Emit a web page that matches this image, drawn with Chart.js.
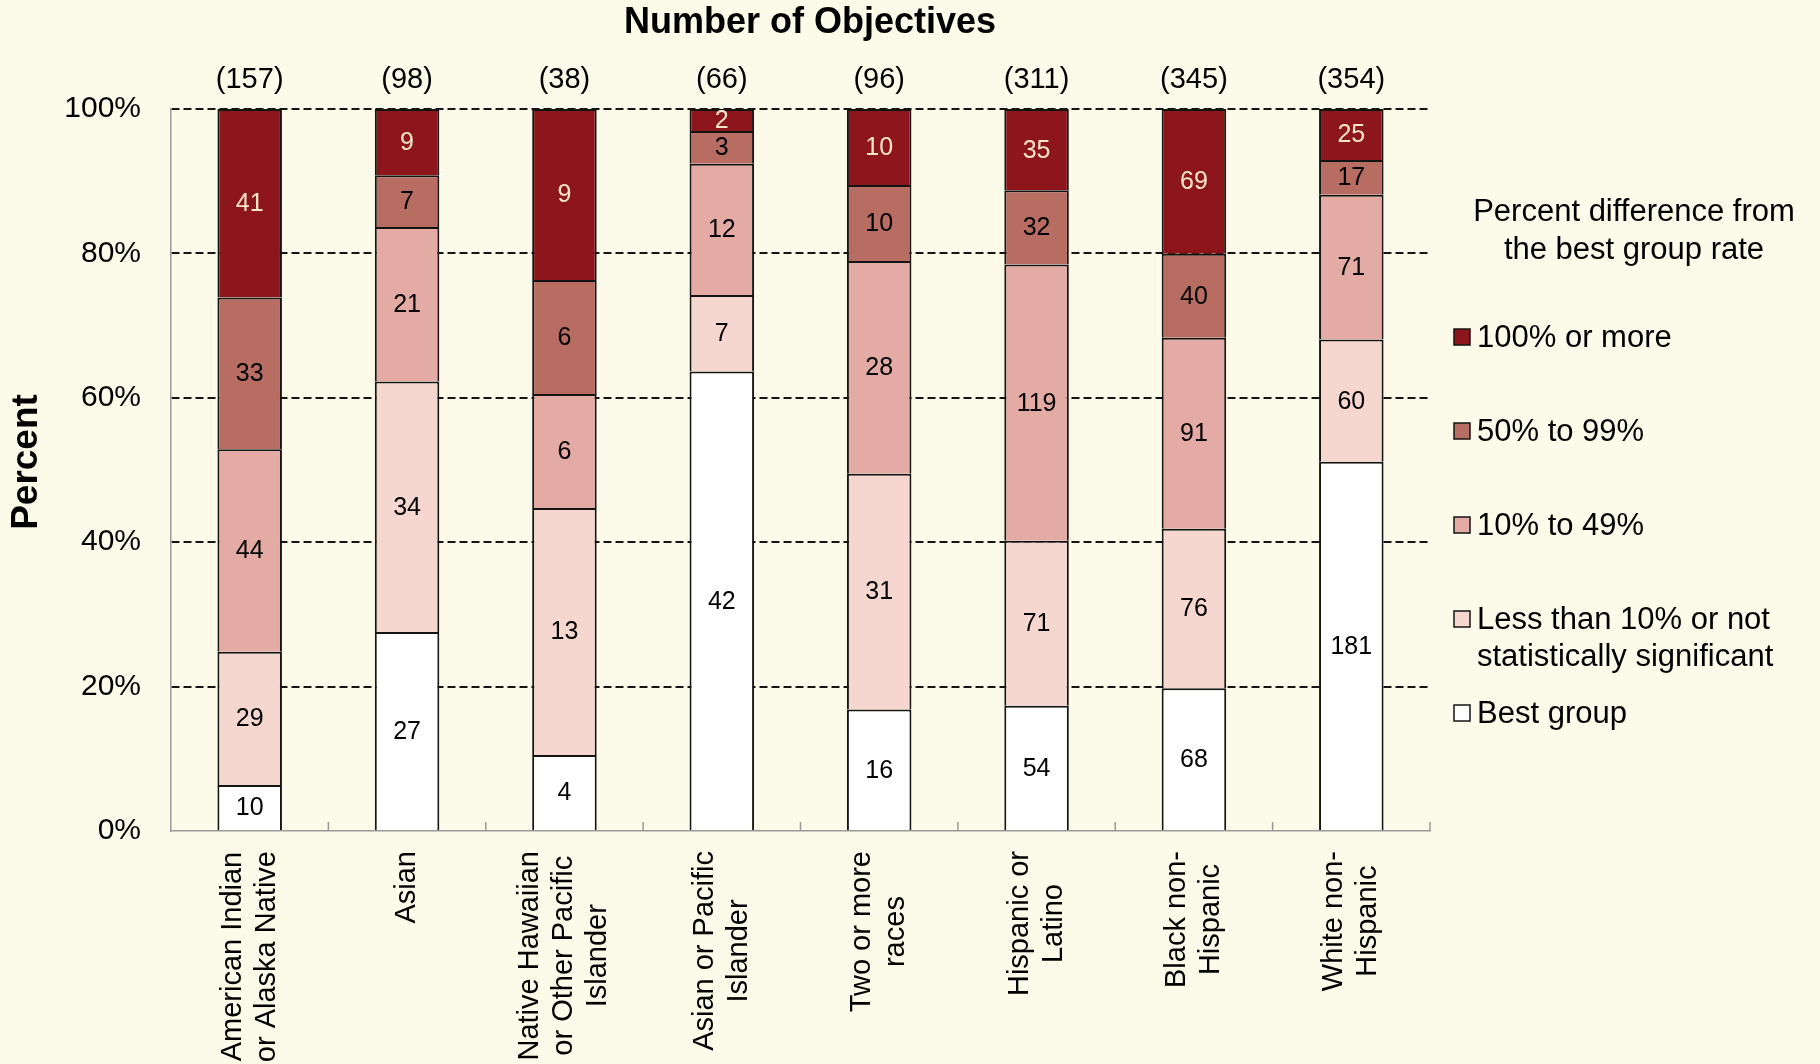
<!DOCTYPE html>
<html>
<head>
<meta charset="utf-8">
<title>Number of Objectives</title>
<script src="https://cdn.jsdelivr.net/npm/chart.js@4.4.1/dist/chart.umd.min.js"></script>
<style>
  html, body { margin: 0; padding: 0; background: #fcfbe9; }
  #wrap { width: 1820px; height: 1064px; position: relative; }
</style>
</head>
<body>
<div id="wrap"><canvas id="objChart"></canvas></div>
<script>
// groups and number of objectives per group
var categories = [
  ["American Indian", "or Alaska Native"],
  ["Asian"],
  ["Native Hawaiian", "or Other Pacific", "Islander"],
  ["Asian or Pacific", "Islander"],
  ["Two or more", "races"],
  ["Hispanic or", "Latino"],
  ["Black non-", "Hispanic"],
  ["White non-", "Hispanic"],
];
var totals = [157, 98, 38, 66, 96, 311, 345, 354];

// objective counts by percent difference from the best group rate
var bestGroup = [10, 27, 4, 42, 16, 54, 68, 181];
var lessThan10 = [29, 34, 13, 7, 31, 71, 76, 60];
var from10to49 = [44, 21, 6, 12, 28, 119, 91, 71];
var from50to99 = [33, 7, 6, 3, 10, 32, 40, 17];
var over100 = [41, 9, 9, 2, 10, 35, 69, 25];

var yTicks = [0, 20, 40, 60, 80, 100];

var seriesNames = [
  "Best group",
  ["Less than 10% or not", "statistically significant"],
  "10% to 49%",
  "50% to 99%",
  "100% or more",
];
var seriesCounts = [bestGroup, lessThan10, from10to49, from50to99, over100];
var seriesColors = ["#ffffff", "#f5d7cf", "#e3aba4", "#b86d63", "#8c161b"];
var labelColors = ["#000", "#000", "#000", "#000", "#fbe6c6"];

var FONT = "'Liberation Sans', Arial, sans-serif";

// stack sums, each bar is drawn as a share of its own segments
var stackSums = categories.map(function (c, j) {
  return seriesCounts.reduce(function (s, arr) { return s + arr[j]; }, 0);
});

var datasets = seriesCounts.map(function (arr, i) {
  return {
    label: Array.isArray(seriesNames[i]) ? seriesNames[i].join(" ") : seriesNames[i],
    data: arr.map(function (v, j) { return (v / stackSums[j]) * 100; }),
    counts: arr,
    backgroundColor: seriesColors[i],
    borderColor: "#141414",
    borderWidth: 2,
    // one line per boundary: each segment draws its top and sides only
    borderSkipped: "start",
    inflateAmount: 0,
    barPercentage: 0.41,
    categoryPercentage: 1,
  };
});

var extras = {
  id: "extras",
  afterDraw: function (chart) {
    var ctx = chart.ctx;
    var area = chart.chartArea;
    var xs = chart.scales.x;
    ctx.save();

    // small inner ticks between groups on the base line
    ctx.strokeStyle = "#9a9a9a";
    ctx.lineWidth = 1.5;
    for (var k = 1; k <= categories.length; k++) {
      var bx = area.left + (k * (area.right - area.left)) / categories.length;
      ctx.beginPath();
      ctx.moveTo(bx, area.bottom);
      ctx.lineTo(bx, area.bottom - 9);
      ctx.stroke();
    }

    // counts inside segments
    ctx.font = "25px " + FONT;
    ctx.textAlign = "center";
    ctx.textBaseline = "middle";
    chart.data.datasets.forEach(function (ds, i) {
      chart.getDatasetMeta(i).data.forEach(function (bar, j) {
        ctx.fillStyle = labelColors[i];
        ctx.fillText(String(ds.counts[j]), bar.x, (bar.y + bar.base) / 2 + 1);
      });
    });

    // totals above bars
    ctx.fillStyle = "#000";
    ctx.font = "29px " + FONT;
    totals.forEach(function (t, j) {
      ctx.fillText("(" + t + ")", xs.getPixelForValue(j), 80);
    });

    // category labels, rotated, block top aligned to the axis
    ctx.font = "29px " + FONT;
    categories.forEach(function (lines, j) {
      var maxW = 0;
      lines.forEach(function (l) { maxW = Math.max(maxW, ctx.measureText(l).width); });
      var cx = xs.getPixelForValue(j);
      ctx.save();
      ctx.translate(cx, area.bottom + 20 + maxW / 2);
      ctx.rotate(-Math.PI / 2);
      lines.forEach(function (l, n) {
        ctx.fillText(l, 0, (n - (lines.length - 1) / 2) * 34);
      });
      ctx.restore();
    });

    // chart title
    ctx.font = "bold 36px " + FONT;
    ctx.fillText("Number of Objectives", 810, 23);

    // y axis title
    ctx.save();
    ctx.translate(27, 462);
    ctx.rotate(-Math.PI / 2);
    ctx.font = "bold 37px " + FONT;
    ctx.fillText("Percent", 0, 0);
    ctx.restore();

    // legend
    ctx.font = "31px " + FONT;
    ctx.fillText("Percent difference from", 1634, 212);
    ctx.fillText("the best group rate", 1634, 250);
    var rows = [337, 431, 525, 619, 713];
    ctx.textAlign = "left";
    for (var s = seriesNames.length - 1; s >= 0; s--) {
      var y = rows[seriesNames.length - 1 - s];
      ctx.fillStyle = seriesColors[s];
      ctx.fillRect(1454, y - 8, 16, 16);
      ctx.strokeStyle = "#141414";
      ctx.lineWidth = 1.5;
      ctx.strokeRect(1454, y - 8, 16, 16);
      ctx.fillStyle = "#000";
      var name = seriesNames[s];
      if (Array.isArray(name)) {
        ctx.fillText(name[0], 1477, y + 1);
        ctx.fillText(name[1], 1477, y + 38);
      } else {
        ctx.fillText(name, 1477, y + 1);
      }
    }
    ctx.restore();
  },
};

Chart.defaults.font.family = FONT;
Chart.defaults.color = "#000";

var objChart = new Chart(document.getElementById("objChart"), {
  type: "bar",
  data: {
    labels: categories.map(function (c) { return c.join(" "); }),
    datasets: datasets,
  },
  options: {
    responsive: true,
    maintainAspectRatio: false,
    animation: false,
    layout: { padding: { top: 109, right: 390, left: 0, bottom: 0 } },
    plugins: {
      legend: { display: false },
      tooltip: { enabled: false },
      title: { display: false },
    },
    scales: {
      x: {
        stacked: true,
        grid: { display: false },
        ticks: { display: false },
        border: { display: true, color: "#9a9a9a", width: 1.5 },
        afterFit: function (scale) { scale.height = 233; },
      },
      y: {
        stacked: true,
        min: 0,
        max: 100,
        afterBuildTicks: function (scale) {
          scale.ticks = yTicks.map(function (v) { return { value: v }; });
        },
        ticks: {
          padding: 30,
          font: { size: 30 },
          color: "#000",
          callback: function (v) { return v + "%"; },
        },
        grid: {
          drawTicks: false,
          color: function (c) { return c.tick && c.tick.value === 0 ? "rgba(0,0,0,0)" : "#141414"; },
          lineWidth: 2,
        },
        border: { display: true, color: "#9a9a9a", width: 1.5, dash: [8, 4] },
        afterFit: function (scale) { scale.width = 171; },
      },
    },
  },
  plugins: [extras],
});
</script>
</body>
</html>
